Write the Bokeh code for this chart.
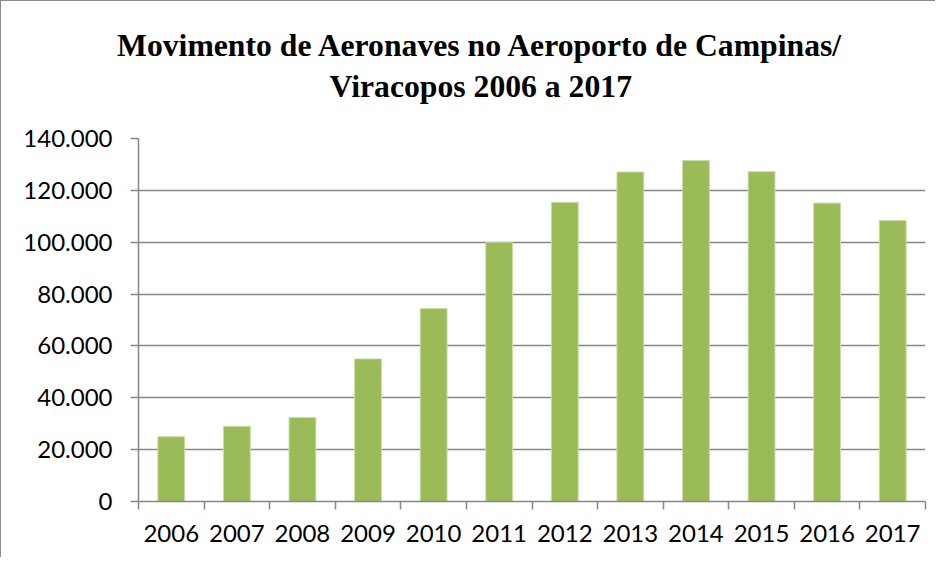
from bokeh.plotting import figure
from bokeh.models import FixedTicker, Title, ColumnDataSource, Range1d
from bokeh.embed import file_html
from bokeh.resources import INLINE

title_lines = ["Movimento de Aeronaves no Aeroporto de Campinas/", "Viracopos 2006 a 2017"]
years = ["2006", "2007", "2008", "2009", "2010", "2011", "2012", "2013", "2014", "2015", "2016", "2017"]
movements = [25000, 29000, 32400, 55000, 74400, 100000, 115400, 127100, 131500, 127200, 115100, 108400]
y_ticks = [0, 20000, 40000, 60000, 80000, 100000, 120000, 140000]
y_tick_labels = ["0", "20.000", "40.000", "60.000", "80.000", "100.000", "120.000", "140.000"]

idx = list(range(len(years)))
source = ColumnDataSource(dict(x=idx, year=years, top=movements))

p = figure(width=935, height=557, output_backend="svg", toolbar_location=None,
           x_range=Range1d(-0.5, len(years) - 0.5), y_range=Range1d(0, 140000),
           min_border_left=137, min_border_right=11, min_border_top=137, min_border_bottom=57)
p.outline_line_color = None
p.background_fill_color = "white"
p.border_fill_color = "white"
p.styles = {"border-left": "1px solid #8c8c8c", "border-top": "1px solid #8c8c8c"}

p.vbar(x="x", top="top", width=0.41, bottom=0, source=source,
       fill_color="#9BBB59", line_color="#cddcaa", line_width=1)

# grid
p.xgrid.visible = False
p.ygrid.ticker = FixedTicker(ticks=y_ticks)
p.ygrid.grid_line_color = "#878787"
p.ygrid.grid_line_width = 1.5

# y axis
ya = p.yaxis[0]
ya.ticker = FixedTicker(ticks=y_ticks)
ya.major_label_overrides = {t: l for t, l in zip(y_ticks, y_tick_labels)}
ya.axis_line_color = "#878787"
ya.axis_line_width = 1.5
ya.major_tick_line_color = "#878787"
ya.major_tick_line_width = 1.5
ya.major_tick_out = 8
ya.major_tick_in = 0
ya.minor_tick_line_color = None
ya.major_label_standoff = 18
ya.major_label_text_font = "Lato"
ya.major_label_text_font_size = "24px"
ya.major_label_text_color = "black"

# x axis
xa = p.xaxis[0]
xa.ticker = FixedTicker(ticks=idx, minor_ticks=[i - 0.5 for i in range(len(years) + 1)])
xa.major_label_overrides = {i: y for i, y in zip(idx, years)}
xa.axis_line_color = "#878787"
xa.axis_line_width = 1.5
xa.major_tick_line_color = None
xa.minor_tick_line_color = "#878787"
xa.minor_tick_line_width = 1.5
xa.minor_tick_out = 8
xa.minor_tick_in = 0
xa.major_label_standoff = 15
xa.major_label_text_font = "Lato"
xa.major_label_text_font_size = "24px"
xa.major_label_text_color = "black"

# title: two lines, centred over the chart area
p.title.visible = False
t2 = Title(text=title_lines[1], align="left", offset=191, standoff=69,
           text_font="Liberation Serif", text_font_style="bold",
           text_font_size="31.7px", text_color="black")
t1 = Title(text=title_lines[0], align="left", offset=-21.5, standoff=-60,
           text_font="Liberation Serif", text_font_style="bold",
           text_font_size="31.7px", text_color="black")
p.add_layout(t2, "above")
p.add_layout(t1, "above")

open("out.html", "w").write(file_html(p, INLINE))
